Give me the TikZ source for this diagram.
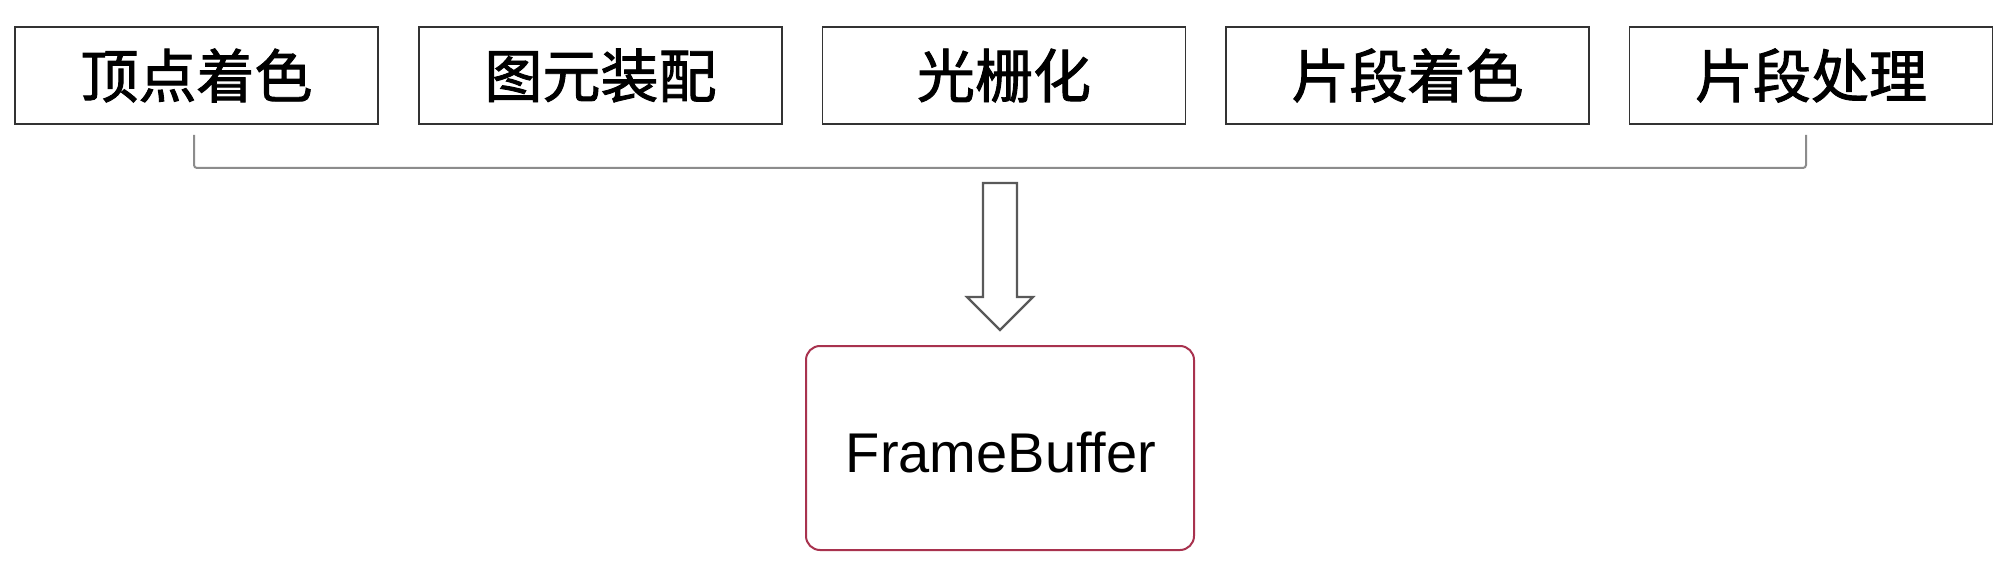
\documentclass[tikz,border=0pt]{standalone}
\usepackage{fontspec}
\setmainfont{Liberation Sans}
\newfontfamily\cjk[FakeBold=1.6]{Noto Sans CJK SC}
\begin{document}
\begin{tikzpicture}[x=1pt,y=-1pt,
  stage/.style={draw=black!80,line width=1.8pt,minimum width=363pt,minimum height=97pt,inner sep=0pt,font=\cjk\fontsize{58}{58}\selectfont},
  fbbox/.style={draw=fbred,line width=2pt,rounded corners=14pt,minimum width=388pt,minimum height=204pt,inner sep=0pt},
  fblabel/.style={font=\fontsize{56}{56}\selectfont,inner sep=0pt},
  brk/.style={draw=black!45,line width=2pt,rounded corners=3pt},
  bigarrow/.style={draw=black!65,line width=2.2pt,fill=white,line join=miter}]
\definecolor{fbred}{HTML}{A8324E}
\useasboundingbox (0,0) rectangle (2010,572);
\fill[white] (0,0) rectangle (2010,572);
\node[stage] (s1) at (196.5,75.5) {顶点着色};
\node[stage] (s2) at (600.5,75.5) {图元装配};
\node[stage] (s3) at (1004,75.5) {光栅化};
\node[stage] (s4) at (1407.5,75.5) {片段着色};
\node[stage] (s5) at (1811,75.5) {片段处理};
\node[fbbox] (fb) at (1000,448) {};
\node[fblabel] (fbt) at (1001,453) {FrameBuffer};
\coordinate (bl) at (194,135);
\coordinate (br) at (1806,135);
\draw[brk] (bl) -- (194,168) -- (1806,168) -- (br);
\draw[bigarrow] (983,183) -- (1017,183) -- (1017,297) -- (1033,297) -- (1000,330) -- (967,297) -- (983,297) -- cycle;
\end{tikzpicture}
\end{document}
